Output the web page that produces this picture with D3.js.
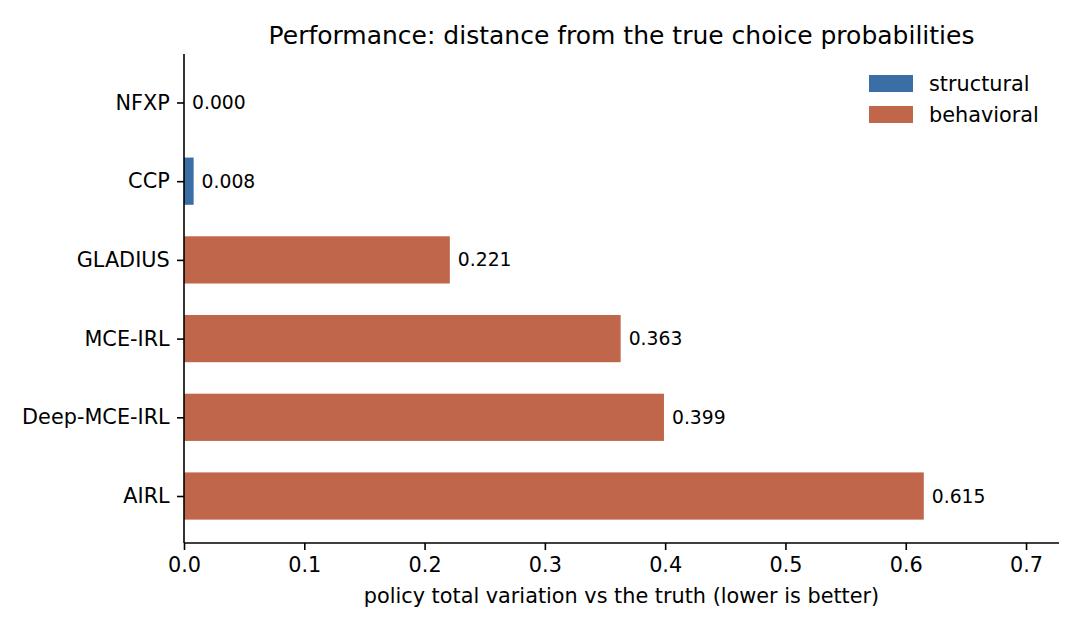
<!DOCTYPE html>
<html>
<head>
<meta charset="utf-8">
<script src="https://cdn.jsdelivr.net/npm/d3@7"></script>
<style>
  html, body { margin: 0; padding: 0; background: #fff; }
  svg text { font-family: "DejaVu Sans", sans-serif; fill: #000; }
</style>
</head>
<body>
<svg id="chart" width="1080" height="630"></svg>
<script>
// ---- data ----
const methods = ["NFXP", "CCP", "GLADIUS", "MCE-IRL", "Deep-MCE-IRL", "AIRL"];
const distances = [0.000, 0.008, 0.221, 0.363, 0.399, 0.615];
const groups = ["structural", "structural", "behavioral", "behavioral", "behavioral", "behavioral"];
const legendLabels = ["structural", "behavioral"];
const xTicks = [0.0, 0.1, 0.2, 0.3, 0.4, 0.5, 0.6, 0.7];
const titleText = "Performance: distance from the true choice probabilities";
const xLabelText = "policy total variation vs the truth (lower is better)";

const colors = { structural: "#3b6ea5", behavioral: "#c0674b" };

const svg = d3.select("#chart");
const pLeft = 184, pRight = 1059, pTop = 54, pBottom = 543;

const x = d3.scaleLinear().domain([0, 0.7274]).range([pLeft, pRight]);
const y = d3.scaleLinear().domain([-0.616, methods.length - 1 + 0.597]).range([pTop, pBottom]);
const barH = y(0.6) - y(0);

// bars
svg.append("g").selectAll("rect")
  .data(methods)
  .join("rect")
  .attr("x", x(0))
  .attr("y", (d, i) => y(i) - barH / 2)
  .attr("width", (d, i) => x(distances[i]) - x(0))
  .attr("height", barH)
  .attr("fill", (d, i) => colors[groups[i]]);

// value labels
svg.append("g").selectAll("text")
  .data(methods)
  .join("text")
  .attr("x", (d, i) => x(distances[i]) + 8)
  .attr("y", (d, i) => y(i))
  .attr("dy", "0.35em")
  .attr("font-size", "18.75px")
  .text((d, i) => distances[i].toFixed(3));

// x axis
const xAxis = d3.axisBottom(x).tickValues(xTicks).tickFormat(d3.format(".1f"))
  .tickSize(7).tickPadding(7.3);
const gx = svg.append("g").attr("transform", `translate(0,${pBottom})`).call(xAxis);
gx.select(".domain").attr("stroke", "#000").attr("stroke-width", 1.6)
  .attr("d", `M${pLeft},0H${pRight}`);
gx.selectAll(".tick line").attr("stroke", "#000").attr("stroke-width", 1.6);
gx.selectAll(".tick text").attr("font-size", "20.8px").attr("font-family", "DejaVu Sans").attr("fill", "#000");

// y axis
const yAxis = d3.axisLeft(y).tickValues(d3.range(methods.length)).tickFormat(i => methods[i])
  .tickSize(7).tickPadding(7.3);
const gy = svg.append("g").attr("transform", `translate(${pLeft},0)`).call(yAxis);
gy.select(".domain").attr("stroke", "#000").attr("stroke-width", 1.6)
  .attr("d", `M0,${pTop}V${pBottom}`);
gy.selectAll(".tick line").attr("stroke", "#000").attr("stroke-width", 1.6);
gy.selectAll(".tick text").attr("font-size", "20.8px").attr("font-family", "DejaVu Sans").attr("fill", "#000");

// title
svg.append("text")
  .attr("x", (pLeft + pRight) / 2)
  .attr("y", 43.5)
  .attr("text-anchor", "middle")
  .attr("font-size", "25px")
  .text(titleText);

// x label
svg.append("text")
  .attr("x", (pLeft + pRight) / 2)
  .attr("y", 603)
  .attr("text-anchor", "middle")
  .attr("font-size", "20.8px")
  .text(xLabelText);

// legend
const lg = svg.append("g");
legendLabels.forEach((lab, i) => {
  lg.append("rect")
    .attr("x", 869).attr("y", 75 + i * 31)
    .attr("width", 44).attr("height", 17)
    .attr("fill", colors[lab]);
  lg.append("text")
    .attr("x", 929).attr("y", 75 + i * 31 + 8.5)
    .attr("dy", "0.35em")
    .attr("font-size", "20.8px")
    .text(lab);
});
</script>
</body>
</html>
